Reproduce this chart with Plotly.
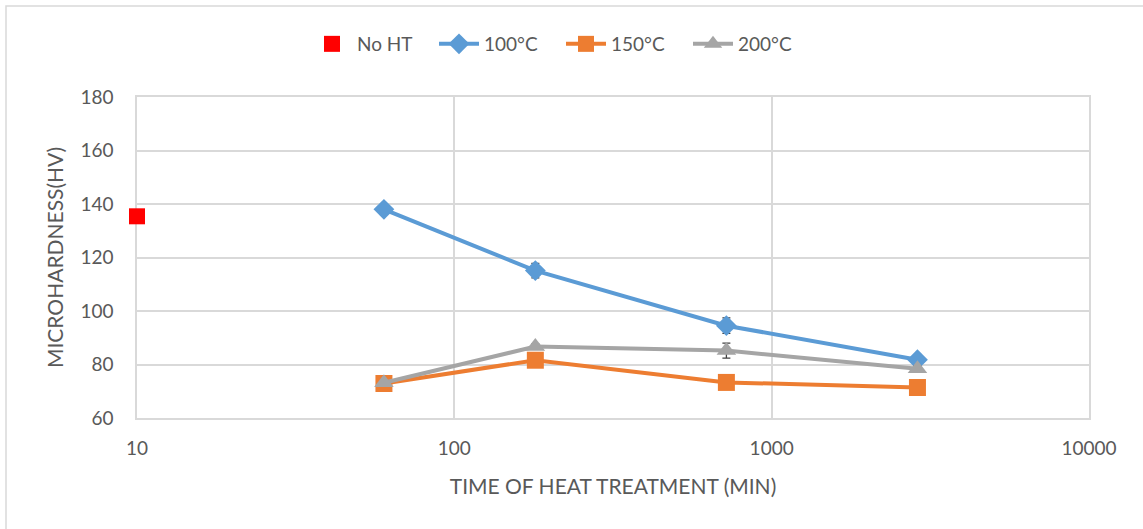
import plotly.graph_objects as go

# Data
no_ht_x = [10]
no_ht_y = [135.4]

times = [60, 180, 720, 2880]
hv_100 = [138.0, 115.1, 94.5, 81.8]
err_100 = [0.8, 2.7, 2.9, 1.0]
hv_150 = [72.9, 81.6, 73.3, 71.4]
err_150 = [0.8, 1.0, 1.0, 0.8]
hv_200 = [73.2, 86.7, 85.2, 78.4]
err_200 = [0.8, 1.0, 2.8, 1.0]

x_ticks = [10, 100, 1000, 10000]
y_ticks = [60, 80, 100, 120, 140, 160, 180]

FONT = "Lato, 'Liberation Sans', sans-serif"
TXT = "#595959"
ERR = dict(type="data", visible=True, color="#404040", thickness=1.3, width=4)

fig = go.Figure()
fig.add_trace(go.Scatter(
    x=no_ht_x, y=no_ht_y, mode="markers", name="No HT", cliponaxis=False,
    marker=dict(symbol="square", size=16, color="#FF0000"),
))
fig.add_trace(go.Scatter(
    x=times, y=hv_100, mode="lines+markers", name="100°C", cliponaxis=False,
    line=dict(color="#5B9BD5", width=4),
    marker=dict(symbol="diamond", size=16, color="#5B9BD5"),
    error_y=dict(array=err_100, **ERR),
))
fig.add_trace(go.Scatter(
    x=times, y=hv_150, mode="lines+markers", name="150°C", cliponaxis=False,
    line=dict(color="#ED7D31", width=4),
    marker=dict(symbol="square", size=17, color="#ED7D31"),
    error_y=dict(array=err_150, **ERR),
))
fig.add_trace(go.Scatter(
    x=times, y=hv_200, mode="lines+markers", name="200°C", cliponaxis=False,
    line=dict(color="#A5A5A5", width=4),
    marker=dict(symbol="triangle-up", size=17, color="#A5A5A5"),
    error_y=dict(array=err_200, **ERR),
))

L, R, T, B = 137, 54, 97, 111
W, H = 1143, 529
pw = W - L - R
ph = H - T - B

fig.update_layout(
    width=W, height=H,
    margin=dict(l=L, r=R, t=T, b=B),
    paper_bgcolor="white", plot_bgcolor="white",
    font=dict(family=FONT, size=19, color=TXT),
    showlegend=True,
    legend=dict(
        orientation="h", x=(307 - L) / pw, xanchor="left",
        y=1 + (97 - 44) / ph, yanchor="middle",
        font=dict(family=FONT, size=19, color=TXT),
        itemwidth=40, entrywidth=72, bgcolor="rgba(0,0,0,0)",
    ),
    xaxis=dict(
        type="log", range=[1, 4], layer="below traces",
        tickvals=x_ticks, ticktext=[str(v) for v in x_ticks],
        showgrid=True, gridcolor="#D9D9D9", gridwidth=1.5,
        showline=True, linecolor="#D9D9D9", linewidth=1.5, mirror=True,
        ticks="", zeroline=False, ticklabelstandoff=12,
        tickfont=dict(family=FONT, size=19, color=TXT),
        title=dict(text="TIME OF HEAT TREATMENT (MIN)", font=dict(family=FONT, size=21, color=TXT), standoff=22),
    ),
    yaxis=dict(
        range=[60, 180], layer="below traces",
        tickvals=y_ticks,
        showgrid=True, gridcolor="#D9D9D9", gridwidth=1.5,
        showline=True, linecolor="#D9D9D9", linewidth=1.5, mirror=True,
        ticks="", zeroline=False, ticklabelstandoff=18,
        tickfont=dict(family=FONT, size=19, color=TXT),
        title=dict(text="MICROHARDNESS(HV)", font=dict(family=FONT, size=21, color=TXT), standoff=11),
    ),
    shapes=[dict(
        type="rect", xref="paper", yref="paper",
        x0=(6 - L) / pw, x1=(1160 - L) / pw,
        y0=(H - T - 560) / ph, y1=(H - B - 6) / ph,
        line=dict(color="#D9D9D9", width=1.5), layer="below",
    )],
)

fig.write_html("out.html")
